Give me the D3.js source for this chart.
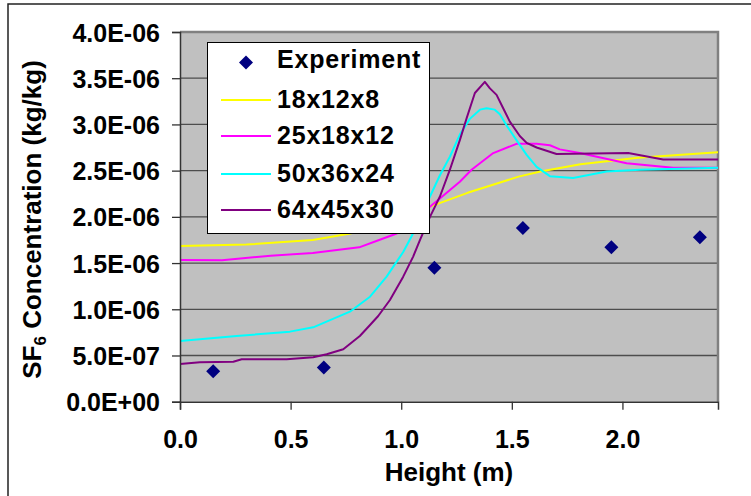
<!DOCTYPE html>
<html><head><meta charset="utf-8">
<script src="https://cdn.jsdelivr.net/npm/d3@7"></script>
<style>
html,body{margin:0;padding:0;background:#fff;}
svg{display:block;}
text{font-family:"Liberation Sans",Arial,sans-serif;font-weight:bold;fill:#000;}
</style>
</head><body>
<svg id="chart" width="751" height="496"></svg>
<script>
// values in units of 1e-6 kg/kg
const UNIT = 1e-6;
const expHeights = [0.15, 0.65, 1.15, 1.55, 1.95, 2.35];
const expValues  = [0.33, 0.37, 1.45, 1.88, 1.67, 1.78];

const h18x12x8 = [0, 0.3, 0.6, 0.77, 0.95, 1.13, 1.3, 1.53, 1.63, 1.81, 1.92, 2.07, 2.432];
const v18x12x8 = [1.685, 1.70, 1.75, 1.82, 1.95, 2.11, 2.26, 2.435, 2.49, 2.57, 2.60, 2.64, 2.70];

const h25x18x12 = [0, 0.19, 0.41, 0.60, 0.81, 0.90, 0.98, 1.05, 1.13, 1.265, 1.318, 1.416, 1.521, 1.612, 1.672, 1.717, 1.807, 2.019, 2.229, 2.432];
const v25x18x12 = [1.534, 1.53, 1.58, 1.61, 1.67, 1.75, 1.82, 1.95, 2.11, 2.38, 2.51, 2.69, 2.79, 2.79, 2.775, 2.73, 2.69, 2.58, 2.53, 2.53];

const h50x36x24 = [0, 0.256, 0.497, 0.602, 0.768, 0.859, 0.934, 1.009, 1.047, 1.13, 1.175, 1.22, 1.265, 1.31, 1.356, 1.386, 1.423, 1.446, 1.476, 1.521, 1.567, 1.612, 1.672, 1.777, 1.928, 2.079, 2.432];
const v50x36x24 = [0.657, 0.711, 0.758, 0.805, 0.974, 1.136, 1.353, 1.62, 1.79, 2.22, 2.45, 2.65, 2.89, 3.06, 3.16, 3.175, 3.16, 3.11, 2.99, 2.83, 2.67, 2.54, 2.44, 2.42, 2.49, 2.51, 2.53];

const h64x45x30 = [0, 0.09, 0.241, 0.279, 0.482, 0.602, 0.663, 0.738, 0.813, 0.859, 0.896, 0.949, 1.009, 1.054, 1.085, 1.13, 1.175, 1.22, 1.265, 1.296, 1.333, 1.378, 1.401, 1.431, 1.461, 1.491, 1.536, 1.567, 1.612, 1.702, 2.026, 2.184, 2.432];
const v64x45x30 = [0.408, 0.426, 0.433, 0.459, 0.459, 0.48, 0.513, 0.567, 0.711, 0.83, 0.927, 1.10, 1.353, 1.57, 1.75, 2.00, 2.22, 2.51, 2.83, 3.07, 3.34, 3.46, 3.39, 3.32, 3.175, 3.03, 2.875, 2.80, 2.75, 2.68, 2.69, 2.62, 2.62];

const seriesNames  = ["18x12x8", "25x18x12", "50x36x24", "64x45x30"];
const seriesColors = ["#FFFF00", "#FF00FF", "#00FFFF", "#800080"];
const seriesH = [h18x12x8, h25x18x12, h50x36x24, h64x45x30];
const seriesV = [v18x12x8, v25x18x12, v50x36x24, v64x45x30];

const xTickValues = [0, 0.5, 1.0, 1.5, 2.0];
const yTickValues = [0, 5e-7, 1e-6, 1.5e-6, 2e-6, 2.5e-6, 3e-6, 3.5e-6, 4e-6];
const yTickLabels = ["0.0E+00","5.0E-07","1.0E-06","1.5E-06","2.0E-06","2.5E-06","3.0E-06","3.5E-06","4.0E-06"];

const svg = d3.select("#chart");
const L = 180, R = 718, T = 32, B = 401.7;
const x = d3.scaleLinear().domain([0, 2.432]).range([L, R]);
const y = d3.scaleLinear().domain([0, 4e-6]).range([B, T]);

// outer frame
svg.append("rect").attr("x", 8).attr("y", 4).attr("width", 900).attr("height", 700)
  .attr("fill", "#fff").attr("stroke", "#222").attr("stroke-width", 1.5);

// plot area
svg.append("rect").attr("x", L).attr("y", T).attr("width", R - L).attr("height", B - T)
  .attr("fill", "#C0C0C0");

// gridlines
svg.append("g").selectAll("line").data(yTickValues.filter(d => d > 0 && d < 4e-6)).join("line")
  .attr("x1", L).attr("x2", R).attr("y1", d => y(d)).attr("y2", d => y(d))
  .attr("stroke", "#4d4d4d").attr("stroke-width", 1.3);

// plot border (gray)
svg.append("path").attr("d", `M${L},${T}H${R}V${B}`).attr("fill", "none")
  .attr("stroke", "#808080").attr("stroke-width", 2.5);

// series lines
svg.append("clipPath").attr("id", "clip").append("rect")
  .attr("x", L).attr("y", T).attr("width", R - L).attr("height", B - T);
const line = d3.line().x(d => x(d[0])).y(d => y(d[1] * UNIT));
const gl = svg.append("g").attr("clip-path", "url(#clip)");
seriesNames.forEach((name, i) => {
  const pts = seriesH[i].map((h, j) => [h, seriesV[i][j]]);
  gl.append("path").datum(pts).attr("d", line).attr("fill", "none")
    .attr("stroke", seriesColors[i]).attr("stroke-width", 2).attr("stroke-linejoin", "round");
});

// experiment diamonds
const dia = "M0,-7L7,0L0,7L-7,0Z";
svg.append("g").selectAll("path").data(expHeights.map((h, j) => [h, expValues[j]])).join("path")
  .attr("d", dia).attr("transform", d => `translate(${x(d[0])},${y(d[1] * UNIT)})`)
  .attr("fill", "#000080");

// y axis
const yAxis = d3.axisLeft(y).tickValues(yTickValues).tickSize(8).tickPadding(12)
  .tickFormat((d, i) => yTickLabels[i]);
const gy = svg.append("g").attr("transform", `translate(${L},0)`).call(yAxis);
gy.select(".domain").attr("stroke", "#333").attr("stroke-width", 1.5);
gy.selectAll(".tick line").attr("stroke", "#333").attr("stroke-width", 1.3);
gy.selectAll(".tick text").attr("font-size", 25).attr("font-family", null).attr("dy", "0.36em");

// x axis
const xAxis = d3.axisBottom(x).tickValues(xTickValues).tickSize(8).tickPadding(20)
  .tickFormat(d3.format(".1f"));
const gx = svg.append("g").attr("transform", `translate(0,${B})`).call(xAxis);
gx.select(".domain").attr("stroke", "#333").attr("stroke-width", 1.5);
gx.selectAll(".tick line").attr("stroke", "#333").attr("stroke-width", 1.3);
gx.selectAll(".tick text").attr("font-size", 25).attr("font-family", null).attr("dy", "0.72em");

// axis titles
svg.append("text").attr("x", (L + R) / 2).attr("y", 481).attr("text-anchor", "middle")
  .attr("font-size", 26).text("Height (m)");
const yt = svg.append("text").attr("transform", "translate(41,219.5) rotate(-90)")
  .attr("text-anchor", "middle").attr("font-size", 26);
yt.append("tspan").text("SF");
yt.append("tspan").attr("font-size", 17).attr("dy", 5).text("6");
yt.append("tspan").attr("dy", -5).text(" Concentration (kg/kg)");

// legend
const lg = svg.append("g");
lg.append("rect").attr("x", 207.5).attr("y", 42.5).attr("width", 222).attr("height", 191)
  .attr("fill", "#fff").attr("stroke", "#000").attr("stroke-width", 1);
const legendNames = ["Experiment"].concat(seriesNames);
const rowY = [59, 99, 135, 173, 209];
legendNames.forEach((n, i) => {
  if (i === 0) {
    lg.append("path").attr("d", dia).attr("transform", `translate(246,${rowY[0] + 3.5})`).attr("fill", "#000080");
  } else {
    lg.append("line").attr("x1", 221).attr("x2", 271).attr("y1", rowY[i] + 1).attr("y2", rowY[i] + 1)
      .attr("stroke", seriesColors[i - 1]).attr("stroke-width", 2);
  }
  lg.append("text").attr("x", 277).attr("y", rowY[i] + 8.5).attr("font-size", 25)
    .attr("letter-spacing", 0.8).text(n);
});
</script>
</body></html>
